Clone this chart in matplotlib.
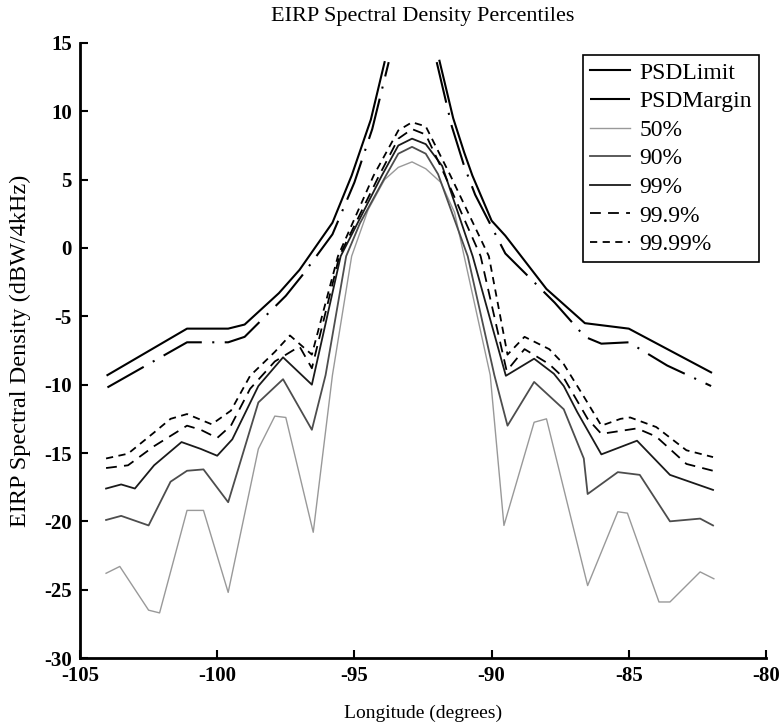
import numpy as np
import matplotlib
matplotlib.use("Agg")
from matplotlib import pyplot as plt

# PSD mask and its margin (dBW/4kHz); the top of the mask is not drawn (nan gap)
limit_lon = [-104.0, -101.1, -99.6, -99.0, -97.75, -97.0, -95.8, -95.1, -94.4, -93.9,
             np.nan,
             -91.9, -91.4, -91.0, -90.7, -90.0, -89.5, -88.0, -86.6, -85.0, -82.0]
limit_psd = [-9.3, -5.9, -5.9, -5.6, -3.3, -1.6, 1.85, 5.3, 9.4, 13.6,
             np.nan,
             13.7, 9.5, 7.0, 5.3, 2.0, 0.9, -3.0, -5.5, -5.9, -9.1]

margin_lon = [-104.0, -101.1, -99.6, -99.0, -97.5, -96.9, -95.8, -95.0, -94.35, -93.75,
              np.nan,
              -92.0, -91.45, -91.0, -90.6, -89.5, -87.7, -86.6, -86.0, -85.0, -83.6, -82.0]
margin_psd = [-10.2, -6.9, -6.9, -6.5, -3.5, -2.0, 1.0, 4.8, 8.7, 13.6,
              np.nan,
              13.6, 8.9, 6.0, 3.9, -0.4, -4.0, -6.5, -7.0, -6.9, -8.6, -10.1]

# percentile curves
p50_lon = [-104.05, -103.55, -102.5, -102.1, -101.1, -100.5, -99.6, -98.5, -97.9, -97.5,
           -96.5, -95.8, -95.1, -94.5, -93.9, -93.4, -92.9, -92.4, -91.85, -91.35,
           -91.0, -90.05, -89.55, -88.45, -88.0, -86.5, -85.4, -85.05, -83.9, -83.5,
           -82.4, -81.9]
p50_psd = [-23.8, -23.3, -26.5, -26.7, -19.2, -19.2, -25.2, -14.7, -12.3, -12.4,
           -20.8, -9.3, -0.6, 2.8, 5.0, 5.9, 6.3, 5.8, 4.8, 2.6,
           -0.6, -9.3, -20.3, -12.75, -12.5, -24.7, -19.3, -19.4, -25.9, -25.9,
           -23.7, -24.2]

p90_lon = [-104.05, -103.5, -102.5, -101.7, -101.1, -100.5, -99.6, -98.5, -97.6, -96.55,
           -96.05, -95.3, -94.8, -93.85, -93.4, -92.9, -92.4, -91.95, -90.87, -89.9,
           -89.42, -88.45, -87.37, -86.64, -86.5, -85.4, -84.6, -83.5, -82.4, -81.93]
p90_psd = [-19.9, -19.6, -20.3, -17.1, -16.3, -16.2, -18.6, -11.3, -9.6, -13.3,
           -9.3, -0.6, 1.8, 5.3, 6.9, 7.4, 6.9, 5.4, -0.6, -9.3,
           -13.0, -9.8, -11.8, -15.4, -18.0, -16.4, -16.6, -20.0, -19.8, -20.3]

p99_lon = [-104.05, -103.5, -103.0, -102.3, -101.3, -100.6, -100.0, -99.45, -98.5, -97.6,
           -96.55, -95.5, -94.0, -93.4, -92.9, -92.4, -91.8, -90.69, -89.48, -88.45,
           -87.73, -87.37, -86.88, -86.0, -84.7, -83.5, -81.93]
p99_psd = [-17.6, -17.3, -17.6, -15.9, -14.2, -14.7, -15.2, -14.0, -10.1, -8.0,
           -10.0, -0.6, 5.3, 7.5, 8.0, 7.6, 6.0, -0.6, -9.35, -8.1,
           -9.2, -10.1, -12.0, -15.1, -14.1, -16.6, -17.7]

p999_lon = [-104.05, -103.25, -102.3, -101.1, -100.6, -100.0, -99.5, -98.8, -97.9, -97.0,
            -96.55, -95.55, -94.1, -93.4, -92.9, -92.4, -91.7, -90.4, -89.45, -88.8,
            -87.9, -87.37, -86.5, -86.0, -84.7, -84.0, -82.9, -81.93]
p999_psd = [-16.1, -15.9, -14.5, -13.0, -13.3, -13.9, -13.0, -10.3, -8.3, -7.2,
            -8.8, -0.6, 5.3, 8.0, 8.7, 8.3, 5.3, -0.6, -9.0, -7.4,
            -8.5, -9.5, -12.5, -13.6, -13.2, -13.8, -15.8, -16.3]

p9999_lon = [-104.05, -103.25, -102.3, -101.7, -101.1, -100.2, -99.5, -98.8, -97.9, -97.35,
             -96.55, -95.6, -94.3, -93.4, -92.9, -92.4, -91.5, -90.1, -89.42, -88.8,
             -87.9, -87.37, -86.6, -86.0, -85.3, -84.95, -84.0, -82.9, -81.93]
p9999_psd = [-15.4, -15.05, -13.5, -12.5, -12.15, -12.9, -11.9, -9.35, -7.6, -6.4,
             -7.8, -0.6, 5.3, 8.6, 9.2, 8.9, 5.3, -0.6, -7.8, -6.5,
             -7.4, -8.5, -11.0, -13.0, -12.5, -12.4, -13.1, -14.8, -15.3]

x_ticks = [-105, -100, -95, -90, -85, -80]
y_ticks = [-30, -25, -20, -15, -10, -5, 0, 5, 10, 15]

plt.rcParams["font.family"] = ["Liberation Serif", "DejaVu Serif"]
plt.rcParams["axes.unicode_minus"] = False

fig = plt.figure(figsize=(7.79, 7.25), dpi=100)
ax = fig.add_axes([0.1027, 0.0924, 0.8806, 0.8483])

ax.plot(limit_lon, limit_psd, color="black", lw=1.5, label="PSDLimit")
ax.plot(margin_lon, margin_psd, color="black", lw=1.5, linestyle=(0, (20, 5, 1, 5)),
        label="PSDMargin")
ax.plot(p50_lon, p50_psd, color="0.6", lw=1.0, label="50%")
ax.plot(p90_lon, p90_psd, color="0.3", lw=1.3, label="90%")
ax.plot(p99_lon, p99_psd, color="0.1", lw=1.3, label="99%")
ax.plot(p999_lon, p999_psd, color="black", lw=1.3, linestyle=(0, (6, 4)), label="99.9%")
ax.plot(p9999_lon, p9999_psd, color="black", lw=1.3, linestyle=(0, (4, 3)), label="99.99%")

ax.set_xlim(-105, -80)
ax.set_ylim(-30, 15)
ax.set_xticks(x_ticks)
ax.set_yticks(y_ticks)
ax.tick_params(direction="in", length=6, width=1.5, labelsize=15, pad=6)
for lab in ax.get_xticklabels() + ax.get_yticklabels():
    lab.set_fontweight("bold")

ax.spines["top"].set_visible(False)
ax.spines["right"].set_visible(False)
ax.spines["left"].set_linewidth(2)
ax.spines["bottom"].set_linewidth(2)

ax.set_title("EIRP Spectral Density Percentiles", fontsize=16, pad=16)
ax.set_xlabel("Longitude (degrees)", fontsize=14, labelpad=13)
ax.set_ylabel("EIRP Spectral Density (dBW/4kHz)", fontsize=17.5, labelpad=9)

leg = ax.legend(loc="upper right", bbox_to_anchor=(0.99, 0.9805), borderaxespad=0,
                fontsize=17, handlelength=1.7, handletextpad=0.4, labelspacing=0.3,
                fancybox=False, framealpha=1, edgecolor="black", borderpad=0.3)
leg.get_frame().set_linewidth(1.2)

fig.savefig("out.png", dpi=100)
